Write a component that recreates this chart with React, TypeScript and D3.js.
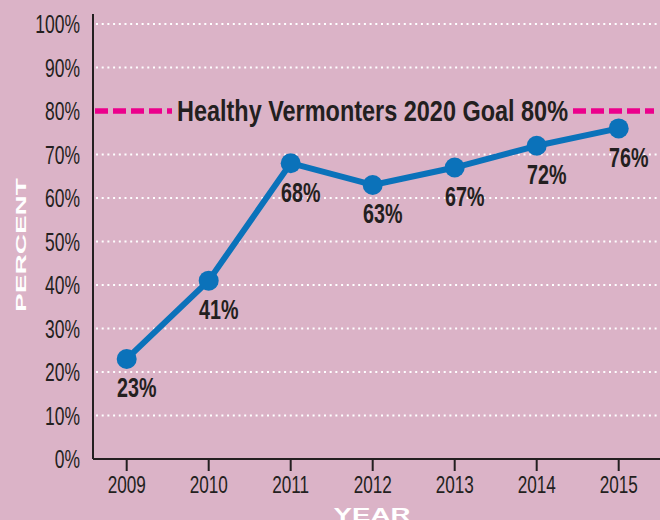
import React from "react";
import * as d3 from "d3";

const years = [2009, 2010, 2011, 2012, 2013, 2014, 2015];
const values = [23, 41, 68, 63, 67, 72, 76];
const yTicks = [0, 10, 20, 30, 40, 50, 60, 70, 80, 90, 100];
const goalValue = 80;
const goalLabel = "Healthy Vermonters 2020 Goal 80%";

const W = 660;
const H = 520;
const BG = "#dbb3c7";
const INK = "#231f20";
const BLUE = "#0b72ba";
const MAGENTA = "#ec008c";
const SANS = "'Liberation Sans', Arial, Helvetica, sans-serif";

function CondText(props: {
  x: number;
  y: number;
  sx: number;
  anchor: "start" | "middle" | "end";
  bold?: boolean;
  size: number;
  children: React.ReactNode;
}) {
  return (
    <text
      transform={`translate(${props.x},${props.y}) scale(${props.sx},1)`}
      textAnchor={props.anchor}
      fontFamily={SANS}
      fontWeight={props.bold ? "bold" : "normal"}
      fontSize={props.size}
      fill={INK}
    >
      {props.children}
    </text>
  );
}

export default function App() {
  const left = 93;
  const right = 660;
  const x = d3.scaleLinear().domain([2009, 2015]).range([126.7, 618.7]);
  const y = d3.scaleLinear().domain([0, 100]).range([459, 24]);
  const line = d3
    .line<number>()
    .x((_, i) => x(years[i]))
    .y((d) => y(d));

  return (
    <div style={{ position: "fixed", left: 0, top: 0, width: W, height: H, background: BG }}>
      <svg width={W} height={H} style={{ display: "block" }}>
        <rect width={W} height={H} fill={BG} />
        {/* grid */}
        {yTicks
          .filter((t) => t > 0 && t !== goalValue)
          .map((t) => (
            <line
              key={"g" + t}
              x1={left + 3}
              x2={right}
              y1={y(t)}
              y2={y(t)}
              stroke="#ffffff"
              strokeWidth={2}
              strokeDasharray="2 3.7"
            />
          ))}
        {/* y tick labels */}
        {yTicks.map((t) => (
          <CondText key={"yl" + t} x={80} y={y(t) + 9} sx={0.7} anchor="end" size={25}>
            {t}%
          </CondText>
        ))}
        {/* axes */}
        <line x1={left} x2={left} y1={14} y2={y(0)} stroke={INK} strokeWidth={2} />
        <line x1={left} x2={right} y1={y(0)} y2={y(0)} stroke={INK} strokeWidth={2} />
        {years.map((yr) => (
          <g key={"xt" + yr}>
            <line x1={x(yr)} x2={x(yr)} y1={y(0)} y2={y(0) + 12} stroke={INK} strokeWidth={2} />
            <CondText x={x(yr)} y={493.3} sx={0.7} anchor="middle" size={24.5}>
              {yr}
            </CondText>
          </g>
        ))}
        {/* goal line */}
        <line
          x1={left + 2}
          x2={172}
          y1={y(goalValue)}
          y2={y(goalValue)}
          stroke={MAGENTA}
          strokeWidth={5.5}
          strokeDasharray="13 5"
        />
        <line
          x1={573}
          x2={654}
          y1={y(goalValue)}
          y2={y(goalValue)}
          stroke={MAGENTA}
          strokeWidth={5.5}
          strokeDasharray="13 5"
        />
        <text
          x={372.5}
          y={121}
          textAnchor="middle"
          fontFamily={SANS}
          fontWeight="bold"
          fontSize={29}
          fill={INK}
          textLength={391}
          lengthAdjust="spacingAndGlyphs"
        >
          {goalLabel}
        </text>
        {/* data line */}
        <path d={line(values) || ""} fill="none" stroke={BLUE} strokeWidth={6} strokeLinejoin="round" />
        {values.map((v, i) => (
          <circle key={"c" + i} cx={x(years[i])} cy={y(v)} r={10} fill={BLUE} />
        ))}
        {values.map((v, i) => (
          <CondText
            key={"dl" + i}
            x={x(years[i]) + 10}
            y={y(v) + 38.5}
            sx={0.73}
            anchor="middle"
            bold
            size={27}
          >
            {v}%
          </CondText>
        ))}
        {/* axis titles */}
        <text
          transform={`translate(25.5,245) rotate(-90)`}
          textAnchor="middle"
          fontFamily={SANS}
          fontWeight="bold"
          fontSize={14}
          fill="#ffffff"
          textLength={134}
          lengthAdjust="spacingAndGlyphs"
        >
          PERCENT
        </text>
        <text
          x={372}
          y={521}
          textAnchor="middle"
          fontFamily={SANS}
          fontWeight="bold"
          fontSize={18}
          fill="#ffffff"
          textLength={77}
          lengthAdjust="spacingAndGlyphs"
        >
          YEAR
        </text>
      </svg>
    </div>
  );
}
